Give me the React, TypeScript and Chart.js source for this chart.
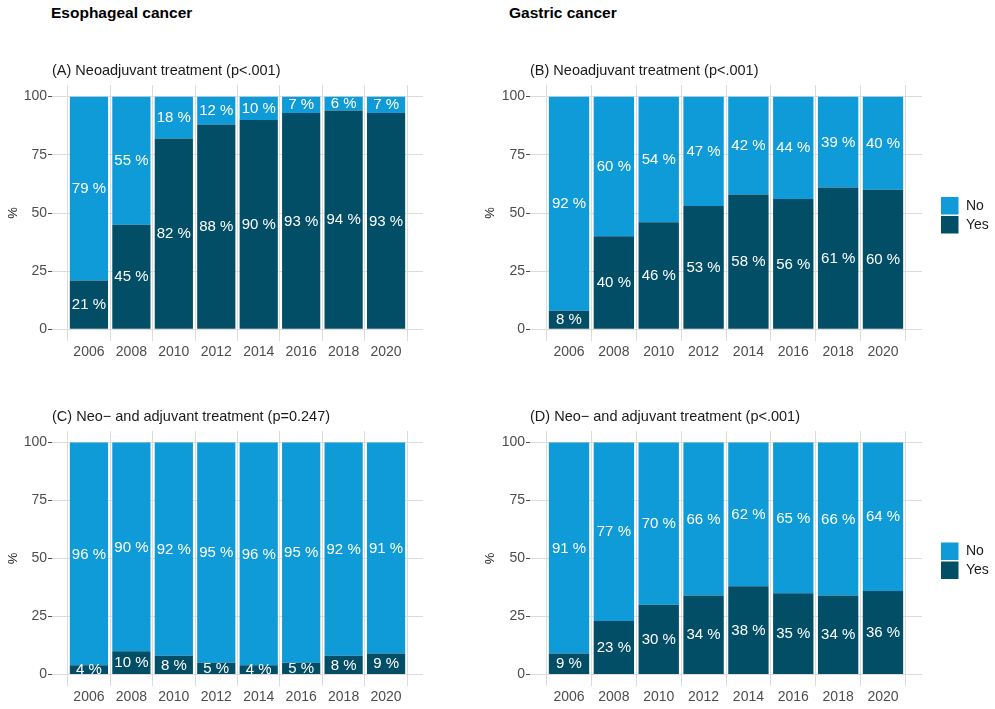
import React, { useEffect, useRef } from 'react';
import { Chart, registerables } from 'chart.js';

Chart.register(...registerables);

const FONT = '"Liberation Sans", Arial, Helvetica, sans-serif';
Chart.defaults.font.family = FONT;

// Survey years (x axis) and y tick values
const years = [2006, 2008, 2010, 2012, 2014, 2016, 2018, 2020];
const yTicks = [0, 25, 50, 75, 100];

// (A) Esophageal cancer, neoadjuvant treatment, % of patients
const esoNeoYes = [21, 45, 82, 88, 90, 93, 94, 93];
const esoNeoNo = [79, 55, 18, 12, 10, 7, 6, 7];

// (B) Gastric cancer, neoadjuvant treatment
const gasNeoYes = [8, 40, 46, 53, 58, 56, 61, 60];
const gasNeoNo = [92, 60, 54, 47, 42, 44, 39, 40];

// (C) Esophageal cancer, neo- and adjuvant treatment
const esoPeriYes = [4, 10, 8, 5, 4, 5, 8, 9];
const esoPeriNo = [96, 90, 92, 95, 96, 95, 92, 91];

// (D) Gastric cancer, neo- and adjuvant treatment
const gasPeriYes = [9, 23, 30, 34, 38, 35, 34, 36];
const gasPeriNo = [91, 77, 70, 66, 62, 65, 66, 64];

const COLOR_YES = '#024e67';
const COLOR_NO = '#0f9bd7';
const GRID = '#dcdcdc';
const AXIS_TEXT = '#4d4d4d';

// white "NN %" label in the middle of every bar segment
const barLabels = {
  id: 'barLabels',
  afterDatasetsDraw(chart: any) {
    const { ctx } = chart;
    ctx.save();
    ctx.font = `15px ${FONT}`;
    ctx.fillStyle = '#ffffff';
    ctx.textAlign = 'center';
    ctx.textBaseline = 'middle';
    chart.data.datasets.forEach((ds: any, di: number) => {
      const meta = chart.getDatasetMeta(di);
      meta.data.forEach((bar: any, i: number) => {
        const { x, y, base } = bar.getProps(['x', 'y', 'base'], true);
        ctx.fillText(`${ds.data[i]} %`, x, (y + base) / 2 + 0.5);
      });
    });
    ctx.restore();
  },
};

// key to the right of the plot: top-of-stack series listed first
const sideLegend = {
  id: 'sideLegend',
  afterDraw(chart: any, _args: any, opts: any) {
    if (!opts || !opts.show) return;
    const { ctx, chartArea } = chart;
    const cy = (chartArea.top + chartArea.bottom) / 2 + 2.5;
    const x = chartArea.right + 19;
    const items = [...chart.data.datasets].reverse();
    ctx.save();
    ctx.font = `14px ${FONT}`;
    ctx.textBaseline = 'middle';
    ctx.textAlign = 'left';
    items.forEach((ds: any, i: number) => {
      const y = cy - 18.5 + i * 19;
      ctx.fillStyle = ds.backgroundColor;
      ctx.fillRect(x, y, 17.5, 17.5);
      ctx.fillStyle = '#1a1a1a';
      ctx.fillText(ds.label, x + 25, y + 9);
    });
    ctx.restore();
  },
};

type PanelProps = {
  title: string;
  yes: number[];
  no: number[];
  left: number;
  top: number;
  width: number;
  plotH: number;
  xAxisH: number;
  padRight: number;
  yTitlePad: number;
  legend: boolean;
};

function Panel(p: PanelProps) {
  const ref = useRef<HTMLCanvasElement | null>(null);
  const height = 35 + p.plotH + p.xAxisH;

  useEffect(() => {
    if (!ref.current) return;
    const chart = new Chart(ref.current, {
      type: 'bar',
      data: {
        labels: years,
        datasets: [
          { label: 'Yes', data: p.yes, backgroundColor: COLOR_YES, categoryPercentage: 1, barPercentage: 0.9 },
          { label: 'No', data: p.no, backgroundColor: COLOR_NO, categoryPercentage: 1, barPercentage: 0.9 },
        ],
      },
      options: {
        animation: false,
        responsive: false,
        devicePixelRatio: 1,
        layout: { padding: { top: 12, right: p.padRight, bottom: 0, left: 0 } },
        plugins: {
          legend: { display: false },
          tooltip: { enabled: false },
          title: {
            display: true,
            text: p.title,
            align: 'start',
            fullSize: false,
            color: '#1a1a1a',
            font: { size: 14.5, weight: 'normal' },
            padding: { top: 0, bottom: 5.6 },
          },
          sideLegend: { show: p.legend },
        } as any,
        scales: {
          x: {
            type: 'linear',
            stacked: true,
            offset: false,
            min: 2004.26,
            max: 2021.74,
            afterBuildTicks: (s: any) => {
              s.ticks = years.map((v) => ({ value: v }));
            },
            afterFit: (s: any) => {
              s.height = p.xAxisH;
            },
            grid: { color: GRID, lineWidth: 1, drawTicks: false },
            border: { display: false },
            ticks: {
              padding: 3,
              color: AXIS_TEXT,
              font: { size: 14 },
              maxRotation: 0,
              autoSkip: false,
              callback: (v: any) => String(v),
            },
          },
          y: {
            type: 'linear',
            stacked: true,
            min: -5,
            max: 105,
            afterBuildTicks: (s: any) => {
              s.ticks = yTicks.map((v) => ({ value: v }));
            },
            afterFit: (s: any) => {
              s.width = 52;
            },
            grid: { color: GRID, lineWidth: 1, drawTicks: true, tickLength: 4, tickColor: AXIS_TEXT },
            border: { display: false },
            ticks: { padding: 1, color: AXIS_TEXT, font: { size: 14 } },
            title: {
              display: true,
              text: '%',
              color: '#1a1a1a',
              font: { size: 13 },
              padding: { top: p.yTitlePad, bottom: 0 },
            },
          },
        } as any,
      },
      plugins: [barLabels, sideLegend],
    });
    return () => chart.destroy();
  }, []);

  return (
    <canvas
      ref={ref}
      width={p.width}
      height={height}
      style={{ position: 'absolute', left: p.left, top: p.top, width: p.width, height }}
    />
  );
}

const headStyle: React.CSSProperties = {
  position: 'absolute',
  top: 5,
  fontFamily: FONT,
  fontWeight: 'bold',
  fontSize: '15.5px',
  lineHeight: '16px',
  color: '#000',
  whiteSpace: 'nowrap',
};

export default function App() {
  return (
    <div
      style={{
        position: 'fixed',
        left: 0,
        top: 0,
        width: 995,
        height: 709,
        overflow: 'hidden',
        background: '#ffffff',
      }}
    >
      <div style={{ ...headStyle, left: 51 }}>Esophageal cancer</div>
      <div style={{ ...headStyle, left: 509 }}>Gastric cancer</div>

      <Panel
        title="(A) Neoadjuvant treatment (p<.001)"
        yes={esoNeoYes}
        no={esoNeoNo}
        left={0}
        top={50}
        width={480}
        plotH={256}
        xAxisH={39}
        padRight={57}
        yTitlePad={6}
        legend={false}
      />
      <Panel
        title="(B) Neoadjuvant treatment (p<.001)"
        yes={gasNeoYes}
        no={gasNeoNo}
        left={478}
        top={50}
        width={517}
        plotH={256}
        xAxisH={39}
        padRight={73}
        yTitlePad={4.2}
        legend={true}
      />
      <Panel
        title="(C) Neo− and adjuvant treatment (p=0.247)"
        yes={esoPeriYes}
        no={esoPeriNo}
        left={0}
        top={396}
        width={480}
        plotH={255}
        xAxisH={30}
        padRight={57}
        yTitlePad={6}
        legend={false}
      />
      <Panel
        title="(D) Neo− and adjuvant treatment (p<.001)"
        yes={gasPeriYes}
        no={gasPeriNo}
        left={478}
        top={396}
        width={517}
        plotH={255}
        xAxisH={30}
        padRight={73}
        yTitlePad={4.2}
        legend={true}
      />
    </div>
  );
}
